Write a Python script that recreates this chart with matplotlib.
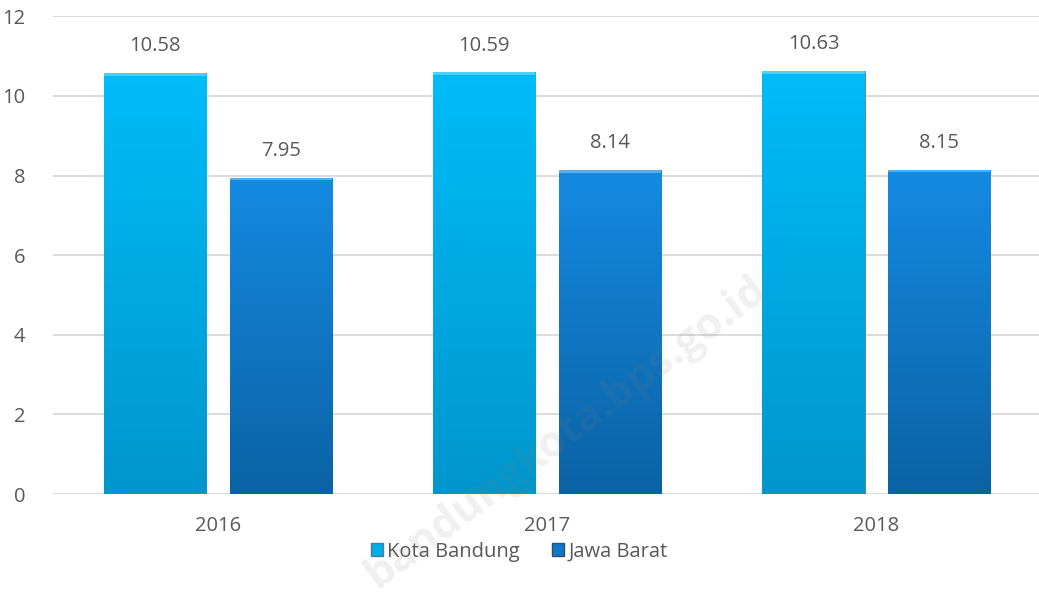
import numpy as np
import matplotlib.pyplot as plt
from matplotlib.colors import to_rgb
from matplotlib.patches import Patch

years = ["2016", "2017", "2018"]
kota_bandung = [10.58, 10.59, 10.63]
jawa_barat = [7.95, 8.14, 8.15]
series_names = ["Kota Bandung", "Jawa Barat"]

TEXT = "#595959"
GRID = "#d9d9d9"
plt.rcParams["font.family"] = ["Open Sans", "DejaVu Sans"]


def gradient_bars(ax, bars, top_color, bottom_color):
    grad = np.linspace(0, 1, 256).reshape(-1, 1, 1)
    top = np.array(to_rgb(top_color))
    bot = np.array(to_rgb(bottom_color))
    img = np.repeat(top * (1 - grad) + bot * grad, 2, axis=1)
    for b in bars:
        x0, y0 = b.get_x(), b.get_y()
        w, h = b.get_width(), b.get_height()
        im = ax.imshow(img, extent=[x0, x0 + w, y0, y0 + h], aspect="auto",
                       zorder=2.1, origin="upper")
        im.set_clip_path(b)
        # thin bevel highlight at the top
        ax.fill_between([x0, x0 + w], y0 + h - 0.07, y0 + h, color="white",
                        alpha=0.3, zorder=2.2, linewidth=0)


fig = plt.figure(figsize=(10.39, 5.92), dpi=100)
ax = fig.add_axes([0.051, 0.1655, 0.951, 0.807])

x = np.arange(len(years))
width = 0.31
offset = 0.191

b1 = ax.bar(x - offset, kota_bandung, width, color="#00aee8", edgecolor="#4a7f96",
            linewidth=0.6, zorder=2)
b2 = ax.bar(x + offset, jawa_barat, width, color="#1178c8", edgecolor="#2f4f6f",
            linewidth=0.6, zorder=2)
gradient_bars(ax, b1, "#00bcf8", "#0096cc")
gradient_bars(ax, b2, "#158ae2", "#0b62a4")

for bars, vals in ((b1, kota_bandung), (b2, jawa_barat)):
    for b, v in zip(bars, vals):
        ax.annotate(f"{v:.2f}", (b.get_x() + b.get_width() / 2, v),
                    xytext=(0, 12), textcoords="offset points",
                    ha="center", va="bottom", fontsize=14.5, color=TEXT)

ax.set_xlim(-0.5, 2.5)
ax.set_ylim(0, 12)
ax.set_yticks(range(0, 13, 2))
ax.set_xticks(x)
ax.set_xticklabels(years)
ax.yaxis.grid(True, color=GRID, linewidth=1.3)
ax.set_axisbelow(True)
for s in ax.spines.values():
    s.set_visible(False)
ax.tick_params(axis="both", length=0, labelsize=14.5, labelcolor=TEXT)
ax.tick_params(axis="y", pad=20)
ax.tick_params(axis="x", pad=16)

handles = [Patch(facecolor="#00aee8", edgecolor="#4a7f96"),
           Patch(facecolor="#1178c8", edgecolor="#2f4f6f")]
fig.legend(handles, series_names, loc="center", bbox_to_anchor=(0.5, 0.068),
           ncol=2, frameon=False, fontsize=14.5, labelcolor=TEXT,
           handlelength=0.6, handleheight=0.6, handletextpad=0.2,
           columnspacing=1.6)

fig.text(0.545, 0.27, "bandungkota.bps.go.id", rotation=37, fontsize=31,
         fontweight="bold", color="gray", alpha=0.12, ha="center", va="center",
         zorder=10)

fig.savefig("out.png", dpi=100)
